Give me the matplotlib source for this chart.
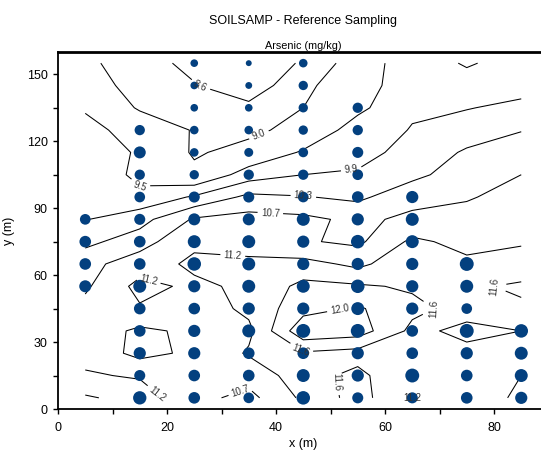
import numpy as np
import matplotlib
matplotlib.use("Agg")
import matplotlib.pyplot as plt
from matplotlib.ticker import MultipleLocator

plt.rcParams['font.family'] = ['Liberation Sans', 'DejaVu Sans']

# sample columns (x, m), first sample depth in each column (y, m), 10 m spacing upward
sample_cols = [5, 15, 25, 35, 45, 55, 65, 75, 85]
sample_start = [55, 5, 5, 5, 5, 5, 5, 5, 5]
# arsenic (mg/kg) per column, bottom sample first
sample_as = [
    [11.5, 11.3, 11.3, 10.8],
    [12.2, 11.0, 11.6, 11.3, 11.3, 12.0, 11.3, 11.3, 11.0, 10.8, 10.6, 11.5, 10.6],
    [11.3, 11.3, 11.6, 11.6, 11.3, 11.6, 12.3, 12.0, 11.5, 11.0, 10.1, 9.7, 9.7, 9.2, 9.2, 9.2],
    [10.8, 11.3, 11.3, 12.0, 11.6, 12.0, 12.0, 12.0, 11.5, 11.0, 10.6, 9.9, 9.7, 9.2, 8.8, 8.3],
    [12.3, 12.0, 11.3, 12.5, 11.6, 12.0, 11.6, 11.6, 12.0, 10.8, 10.6, 10.3, 10.1, 10.1, 10.1, 9.7],
    [11.0, 11.6, 11.6, 12.5, 12.0, 12.3, 11.6, 12.3, 11.6, 11.3, 10.8, 11.0, 10.6, 10.6],
    [11.0, 12.5, 11.3, 11.3, 11.6, 11.6, 11.6, 12.0, 12.0, 11.6],
    [11.3, 11.3, 11.6, 12.5, 10.8, 12.0, 12.5],
    [11.6, 12.0, 12.0, 12.3],
]

# interpolated arsenic surface used for the contours (rows from y=5 to y=155)
grid_x = [5, 15, 25, 35, 45, 55, 65, 75, 85]
grid_y = [5, 15, 25, 35, 45, 55, 65, 75, 85, 95, 105, 115, 125, 135, 145, 155]
grid_as = [
    [11.65, 11.45, 10.85, 10.55, 11.30, 11.75, 11.20, 11.45, 11.65],
    [11.25, 11.15, 11.00, 10.90, 11.45, 11.70, 11.25, 11.55, 11.60],
    [11.05, 10.55, 10.80, 11.25, 11.55, 11.45, 11.20, 11.50, 11.55],
    [11.00, 10.60, 10.80, 11.10, 12.30, 12.20, 11.50, 11.70, 11.60],
    [10.85, 11.15, 10.95, 11.30, 11.85, 12.05, 11.70, 11.45, 11.55],
    [10.62, 11.35, 11.10, 11.30, 11.70, 11.65, 11.55, 11.55, 11.65],
    [10.55, 10.95, 11.30, 11.25, 11.35, 11.10, 11.50, 11.30, 11.40],
    [10.20, 10.50, 11.10, 11.10, 10.75, 10.60, 11.30, 11.05, 11.15],
    [9.88, 10.15, 10.75, 10.85, 10.80, 10.60, 10.80, 10.90, 11.00],
    [9.85, 9.60, 9.95, 10.40, 10.32, 10.22, 10.55, 10.65, 10.90],
    [9.80, 9.40, 9.10, 9.70, 9.90, 9.95, 10.20, 10.50, 10.70],
    [9.75, 9.45, 8.95, 9.15, 9.55, 9.75, 10.05, 10.35, 10.55],
    [9.65, 9.30, 8.97, 8.90, 9.15, 9.70, 9.92, 10.10, 10.28],
    [9.45, 8.95, 8.80, 8.70, 9.00, 9.40, 9.85, 9.88, 10.00],
    [9.25, 8.80, 8.62, 8.35, 8.90, 9.30, 9.75, 9.70, 9.75],
    [9.10, 8.75, 8.50, 8.30, 8.65, 9.23, 9.77, 9.45, 9.70],
]
levels = [8.6, 9.0, 9.5, 9.9, 10.3, 10.7, 11.2, 11.6, 12.0]

# where the contour labels sit (data coords)
label_pos = [(26, 144), (37, 122), (15, 98), (39, 90), (45, 95), (54, 103),
             (17, 62), (32, 66), (78, 54), (52, 40), (69, 45), (45, 28),
             (33, 12), (51, 12), (68, 13), (18, 6)]

xs, ys, vals = [], [], []
for x0, y0, col in zip(sample_cols, sample_start, sample_as):
    for i, v in enumerate(col):
        xs.append(x0)
        ys.append(y0 + 10 * i)
        vals.append(v)
vals = np.array(vals)
# marker diameter (px) grows with concentration -> area in pt^2
diam = 1.9 * (vals - 6.5) + 2.5
sizes = (diam * 0.72) ** 2

fig = plt.figure(figsize=(5.41, 4.54), dpi=100)
ax = fig.add_axes([58 / 541, 45 / 454, 490.5 / 541, 357 / 454])

ax.scatter(xs, ys, s=sizes, c="#03407f", linewidths=0, zorder=3)

X, Y = np.meshgrid(grid_x, grid_y)
cs = ax.contour(X, Y, np.array(grid_as), levels=levels, colors="black", linewidths=0.75, zorder=2)
ax.clabel(cs, fmt="%.1f", fontsize=7, colors="#333333", manual=label_pos, inline=True)

ax.set_xlim(0, 90)
ax.set_ylim(0, 160)
ax.xaxis.set_major_locator(MultipleLocator(20))
ax.xaxis.set_minor_locator(MultipleLocator(10))
ax.yaxis.set_major_locator(MultipleLocator(30))
ax.yaxis.set_minor_locator(MultipleLocator(15))
ax.tick_params(which="both", direction="out", length=3.5, width=1, labelsize=9)
ax.tick_params(axis="x", which="both", pad=6)
ax.tick_params(axis="y", which="both", pad=4)
ax.spines["right"].set_visible(False)
ax.spines["left"].set_linewidth(1.3)
ax.spines["bottom"].set_linewidth(1.3)
ax.spines["top"].set_linewidth(2.0)

ax.set_xlabel("x (m)", fontsize=9, labelpad=3)
ax.set_ylabel("y (m)", fontsize=9, labelpad=8)

fig.text(303 / 541, 1 - 21 / 454, "SOILSAMP - Reference Sampling", ha="center", va="center", fontsize=9)
fig.text(303 / 541, 1 - 46 / 454, "Arsenic (mg/kg)", ha="center", va="center", fontsize=7.8)

fig.savefig("out.png", dpi=100)
